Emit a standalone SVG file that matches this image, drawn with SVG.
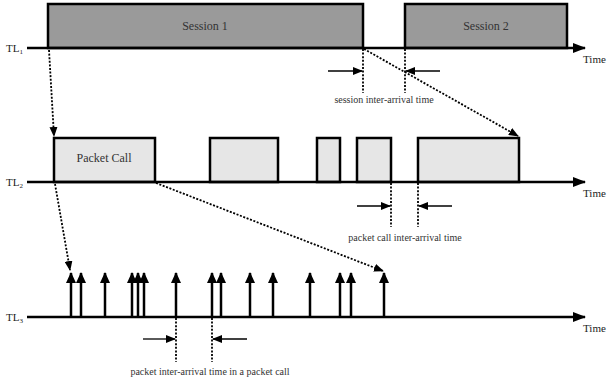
<svg xmlns="http://www.w3.org/2000/svg" width="610" height="385" viewBox="0 0 610 385" font-family="'Liberation Serif', 'Times New Roman', serif">
<style>
.tl{stroke:#000;stroke-width:2.5;fill:none}
.s{fill:#9a9a9a;stroke:#000;stroke-width:2.5}
.p{fill:#e6e6e6;stroke:#000;stroke-width:2.5}
.d{stroke:#000;stroke-width:1.8;stroke-dasharray:2,1.6;fill:none}
.a{stroke:#000;stroke-width:1.3;fill:none}
.k{stroke:#000;stroke-width:2.5;fill:none}
text{fill:#333}
.lab{font-size:12px}
.sm{font-size:10px}
.tn{font-size:11px;fill:#222}
</style>
<defs>
<marker id="big" markerWidth="14" markerHeight="10" refX="12" refY="5" orient="auto" markerUnits="userSpaceOnUse"><path d="M0,0 L13,5 L0,10 Z" fill="#000"/></marker>
<marker id="pk" markerWidth="12" markerHeight="12" refX="10" refY="5" orient="auto" markerUnits="userSpaceOnUse"><path d="M0,0 L11,5 L0,10 Z" fill="#000"/></marker>
<marker id="sm" markerWidth="10" markerHeight="8" refX="9" refY="4" orient="auto" markerUnits="userSpaceOnUse"><path d="M0,0 L10,4 L0,8 Z" fill="#000"/></marker>
</defs>
<g id="TL1">
<rect class="s" x="48" y="4" width="315" height="44"/>
<rect class="s" x="405" y="4" width="162" height="44"/>
<text class="lab" x="205" y="30" text-anchor="middle">Session 1</text>
<text class="lab" x="486" y="30" text-anchor="middle">Session 2</text>
<text class="tn" x="6" y="52">TL<tspan font-size="7" dy="2">1</tspan></text>
<text class="tn" x="583" y="63">Time</text>
</g>
<g id="TL2">
<rect class="p" x="54" y="138" width="101" height="44"/>
<rect class="p" x="210" y="138" width="68" height="44"/>
<rect class="p" x="317" y="138" width="23" height="44"/>
<rect class="p" x="357" y="138" width="34" height="44"/>
<rect class="p" x="418" y="138" width="101" height="44"/>
<text class="lab" x="104" y="162" text-anchor="middle">Packet Call</text>
<text class="tn" x="6" y="186">TL<tspan font-size="7" dy="2">2</tspan></text>
<text class="tn" x="583" y="197">Time</text>
</g>
<g id="TL3">
<text class="tn" x="6" y="321">TL<tspan font-size="7" dy="2">3</tspan></text>
<text class="tn" x="583" y="332">Time</text>
</g>
<g id="connectors">
<line class="tl" x1="27" y1="48" x2="585" y2="48" marker-end="url(#big)"/>
<line class="tl" x1="27" y1="182" x2="585" y2="182" marker-end="url(#big)"/>
<line class="tl" x1="27" y1="317" x2="585" y2="317" marker-end="url(#big)"/>
<g id="packets">
<line class="k" x1="71" y1="317" x2="71" y2="273" marker-end="url(#pk)"/>
<line class="k" x1="81" y1="317" x2="81" y2="273" marker-end="url(#pk)"/>
<line class="k" x1="105" y1="317" x2="105" y2="273" marker-end="url(#pk)"/>
<line class="k" x1="132" y1="317" x2="132" y2="273" marker-end="url(#pk)"/>
<line class="k" x1="138" y1="317" x2="138" y2="273" marker-end="url(#pk)"/>
<line class="k" x1="144" y1="317" x2="144" y2="273" marker-end="url(#pk)"/>
<line class="k" x1="176" y1="317" x2="176" y2="273" marker-end="url(#pk)"/>
<line class="k" x1="212" y1="317" x2="212" y2="273" marker-end="url(#pk)"/>
<line class="k" x1="221" y1="317" x2="221" y2="273" marker-end="url(#pk)"/>
<line class="k" x1="250" y1="317" x2="250" y2="273" marker-end="url(#pk)"/>
<line class="k" x1="273" y1="317" x2="273" y2="273" marker-end="url(#pk)"/>
<line class="k" x1="310" y1="317" x2="310" y2="273" marker-end="url(#pk)"/>
<line class="k" x1="340" y1="317" x2="340" y2="273" marker-end="url(#pk)"/>
<line class="k" x1="351" y1="317" x2="351" y2="273" marker-end="url(#pk)"/>
<line class="k" x1="384" y1="317" x2="384" y2="273" marker-end="url(#pk)"/>
</g>
<line class="d" x1="49" y1="50" x2="54" y2="136" marker-end="url(#sm)"/>
<line class="d" x1="364" y1="49" x2="518" y2="136" marker-end="url(#sm)"/>
<line class="d" x1="55" y1="184" x2="70" y2="270" marker-end="url(#sm)"/>
<line class="d" x1="156" y1="183" x2="383" y2="271" marker-end="url(#sm)"/>
<line class="d" x1="363" y1="49" x2="363" y2="93"/>
<line class="d" x1="405" y1="49" x2="405" y2="93"/>
<line class="a" x1="328" y1="71" x2="362" y2="71" marker-end="url(#sm)"/>
<line class="a" x1="440" y1="71" x2="406" y2="71" marker-end="url(#sm)"/>
<line class="d" x1="391" y1="183" x2="391" y2="227"/>
<line class="d" x1="418" y1="183" x2="418" y2="227"/>
<line class="a" x1="357" y1="206" x2="390" y2="206" marker-end="url(#sm)"/>
<line class="a" x1="452" y1="206" x2="419" y2="206" marker-end="url(#sm)"/>
<line class="d" x1="176" y1="318" x2="176" y2="362"/>
<line class="d" x1="212" y1="318" x2="212" y2="362"/>
<line class="a" x1="143" y1="339" x2="175" y2="339" marker-end="url(#sm)"/>
<line class="a" x1="247" y1="339" x2="213" y2="339" marker-end="url(#sm)"/>
</g>
<g id="labels">
<text class="sm" x="384" y="103" text-anchor="middle">session inter-arrival time</text>
<text class="sm" x="405" y="241" text-anchor="middle">packet call inter-arrival time</text>
<text class="sm" x="210" y="375" text-anchor="middle">packet inter-arrival time in a packet call</text>
</g>
</svg>
